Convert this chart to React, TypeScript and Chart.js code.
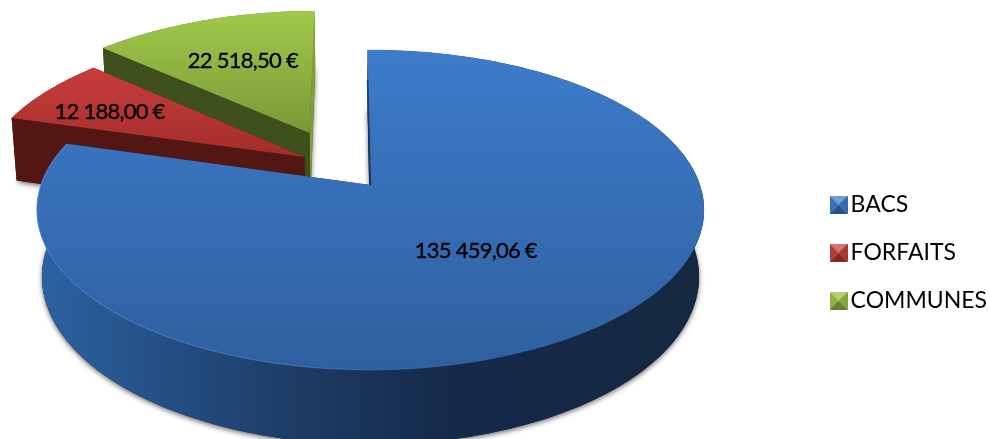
import React, { useEffect, useRef } from "react";
import { Chart, registerables } from "chart.js";

Chart.register(...registerables);

const categories = ["BACS", "FORFAITS", "COMMUNES"];
const amounts = [135459.06, 12188.0, 22518.5];
const amountLabels = ["135 459,06 €", "12 188,00 €", "22 518,50 €"];
const baseColors = ["#3A76C2", "#BE3C3A", "#93BA44"];

// Look of each slice
const STYLE = [
  {
    shift: [0, 0], top: ["#3D7CCB", "#2F5F9F"], topRange: [50, 370], wall: "#14283F", wallEnd: "#14283F",
    side: [[0, "#2C62A2"], [0.12, "#27568F"], [0.4, "#1D3B64"], [0.62, "#15294A"], [1, "#142840"]],
    label: { r: 0.495, dx: 0, dy: 0 },
  },
  {
    shift: [-0.206, -0.185], top: ["#C83D3B", "#A22D2B"], topRange: [69, 157], wall: "#531613", wallEnd: "#531613",
    side: [[0, "#5C1814"], [1, "#531613"]],
    label: { r: 0.75, dx: 1, dy: 6 },
  },
  {
    shift: [-0.195, -0.351], top: ["#A0C84A", "#7A9937"], topRange: [13, 133], wall: "#3F4F1B", wallEnd: "#80A03A",
    side: [[0, "#4A5E20"], [1, "#6F8C2E"]],
    label: { r: 0.615, dx: 2, dy: 0 },
  },
];

// Projection of the disc onto the page
const VIEW = { cx: 370.5, cy: 185, R: 329.5, H: 156, T: 67, k: 0.156, m: 0.015 };

function project(u: number, v: number, z: number) {
  const w = 1 - VIEW.k * v + VIEW.m * z;
  return [VIEW.cx + (VIEW.R * u) / w, VIEW.cy + (VIEW.H * v + VIEW.T * z) / w];
}

function makeIcon(color: string) {
  const s = 18;
  const c = document.createElement("canvas");
  c.width = s;
  c.height = s;
  const g = c.getContext("2d")!;
  const tri = (pts: number[][], alpha: number, shade: string) => {
    g.beginPath();
    pts.forEach((p, i) => (i ? g.lineTo(p[0], p[1]) : g.moveTo(p[0], p[1])));
    g.closePath();
    g.fillStyle = color;
    g.fill();
    g.fillStyle = shade;
    g.globalAlpha = alpha;
    g.fill();
    g.globalAlpha = 1;
  };
  const m = s / 2;
  tri([[0, 0], [s, 0], [m, m]], 0.3, "#fff");
  tri([[0, 0], [0, s], [m, m]], 0.04, "#000");
  tri([[s, 0], [s, s], [m, m]], 0.1, "#000");
  tri([[0, s], [s, s], [m, m]], 0.3, "#000");
  return c;
}

const pie3d = {
  id: "pie3d",
  beforeDatasetDraw(chart: any, args: any) {
    const ctx: CanvasRenderingContext2D = chart.ctx;
    const arcs = args.meta.data;
    const order = [2, 1, 0];
    ctx.save();
    ctx.beginPath();
    ctx.rect(0, 0, chart.width, chart.height);
    ctx.clip();
    for (const i of order) {
      const arc = arcs[i];
      const st = STYLE[i];
      const { startAngle: a0, endAngle: a1 } = arc.getProps(["startAngle", "endAngle"], true);
      const [su, sv] = st.shift;
      const N = Math.max(16, Math.round((a1 - a0) * 50));
      const ring = (z: number) => {
        const out: number[][] = [];
        for (let j = 0; j <= N; j++) {
          const a = a0 + ((a1 - a0) * j) / N;
          out.push(project(su + Math.cos(a), sv + Math.sin(a), z));
        }
        return out;
      };
      const topRing = ring(0);
      const botRing = ring(1);
      const poly = (pts: number[][]) => {
        ctx.beginPath();
        pts.forEach((p, j) => (j ? ctx.lineTo(p[0], p[1]) : ctx.moveTo(p[0], p[1])));
        ctx.closePath();
      };
      const vTop = project(su, sv, 0);
      const vBot = project(su, sv, 1);

      // soft shadow under the solid
      ctx.save();
      ctx.shadowColor = "rgba(0,0,0,0.55)";
      ctx.shadowBlur = 5;
      ctx.shadowOffsetY = 2;
      ctx.fillStyle = st.wall;
      poly([vBot, ...botRing]);
      ctx.fill();
      ctx.restore();

      // outer wall
      const xs = topRing.map((p) => p[0]);
      const side = ctx.createLinearGradient(Math.min(...xs), 0, Math.max(...xs), 0);
      st.side.forEach(([o, c]: any) => side.addColorStop(o, c));
      ctx.fillStyle = side;
      poly([...topRing, ...[...botRing].reverse()]);
      ctx.fill();

      // radial walls
      ctx.fillStyle = st.wallEnd;
      poly([vTop, topRing[N], botRing[N], vBot]);
      ctx.fill();
      ctx.fillStyle = st.wall;
      poly([vTop, topRing[0], botRing[0], vBot]);
      ctx.fill();

      // top face
      const grad = ctx.createLinearGradient(0, st.topRange[0], 0, st.topRange[1]);
      grad.addColorStop(0, st.top[0]);
      grad.addColorStop(1, st.top[1]);
      ctx.fillStyle = grad;
      poly([vTop, ...topRing]);
      ctx.fill();

      // bright rim on the large slice
      if (i === 0) {
        const rim = ctx.createLinearGradient(40, 0, 520, 0);
        rim.addColorStop(0, "rgba(78,140,215,0.9)");
        rim.addColorStop(0.6, "rgba(78,140,215,0.6)");
        rim.addColorStop(1, "rgba(78,140,215,0)");
        ctx.strokeStyle = rim;
        ctx.lineWidth = 1;
        ctx.beginPath();
        topRing.forEach((p, j) => (j ? ctx.lineTo(p[0], p[1]) : ctx.moveTo(p[0], p[1])));
        ctx.stroke();
        ctx.strokeStyle = "#1D3F6C";
        ctx.lineWidth = 1.5;
        ctx.beginPath();
        ctx.moveTo(topRing[0][0], topRing[0][1] + 30);
        ctx.lineTo(vTop[0], vTop[1]);
        ctx.stroke();
      }
    }
    ctx.restore();
    return false;
  },
  afterDatasetsDraw(chart: any) {
    const ctx: any = chart.ctx;
    const arcs = chart.getDatasetMeta(0).data;
    ctx.save();
    ctx.font = "22px Lato";
    ctx.letterSpacing = "-0.75px";
    ctx.fillStyle = "#000";
    ctx.strokeStyle = "#000";
    ctx.lineWidth = 0.35;
    ctx.textAlign = "center";
    ctx.textBaseline = "middle";
    arcs.forEach((arc: any, i: number) => {
      const st = STYLE[i];
      const { startAngle: a0, endAngle: a1 } = arc.getProps(["startAngle", "endAngle"], true);
      const mid = (a0 + a1) / 2;
      const p = project(
        st.shift[0] + st.label.r * Math.cos(mid),
        st.shift[1] + st.label.r * Math.sin(mid),
        0
      );
      ctx.fillText(amountLabels[i], p[0] + st.label.dx, p[1] + st.label.dy);
      ctx.strokeText(amountLabels[i], p[0] + st.label.dx, p[1] + st.label.dy);
    });
    ctx.restore();
  },
};

export default function App() {
  const ref = useRef<HTMLCanvasElement>(null);
  useEffect(() => {
    document.body.style.margin = "0";
    const icons = baseColors.map(makeIcon);
    const chart = new Chart(ref.current!, {
      type: "pie",
      data: {
        labels: categories,
        datasets: [{ data: amounts, backgroundColor: baseColors, borderWidth: 0 }],
      },
      options: {
        responsive: false,
        animation: false,
        rotation: -0.6,
        layout: { padding: { top: 66, right: -7 } },
        plugins: {
          tooltip: { enabled: false },
          legend: {
            position: "right",
            labels: {
              usePointStyle: true,
              pointStyleWidth: 1,
              padding: 25,
              color: "#000",
              font: { family: "Lato", size: 23 },
              generateLabels: () =>
                categories.map((text, i) => ({
                  text,
                  pointStyle: icons[i],
                  fillStyle: baseColors[i],
                  strokeStyle: baseColors[i],
                  lineWidth: 0,
                  hidden: false,
                  index: i,
                })),
            },
          },
        },
      } as any,
      plugins: [pie3d as any],
    });
    return () => chart.destroy();
  }, []);
  return <canvas ref={ref} width={990} height={439} style={{ display: "block", width: 990, height: 439 }} />;
}
